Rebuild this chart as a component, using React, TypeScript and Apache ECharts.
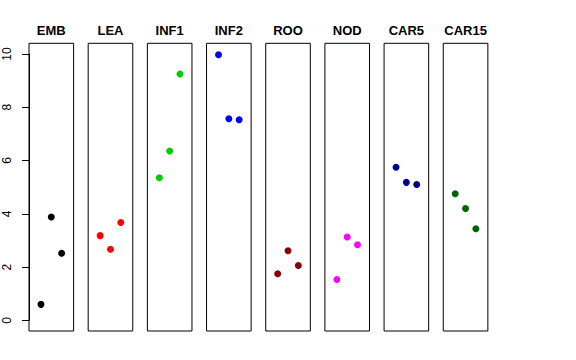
import React, { useEffect, useRef } from "react";
import * as echarts from "echarts";

const panels = ["EMB", "LEA", "INF1", "INF2", "ROO", "NOD", "CAR5", "CAR15"];
const colors = ["#000000", "#FF0000", "#00CD00", "#0000FF", "#8B0000", "#FF00FF", "#00008B", "#006400"];
const values: number[][] = [
  [0.6, 3.88, 2.52],
  [3.18, 2.67, 3.67],
  [5.35, 6.36, 9.25],
  [9.97, 7.57, 7.53],
  [1.75, 2.61, 2.06],
  [1.53, 3.13, 2.84],
  [5.75, 5.18, 5.1],
  [4.75, 4.2, 3.44],
];
const positions = [1, 2, 3];
const yTicks = [0, 2, 4, 6, 8, 10];

export default function App() {
  const ref = useRef<HTMLDivElement>(null);
  useEffect(() => {
    const chart = echarts.init(ref.current!, null, { renderer: "svg" });
    const left0 = 29;
    const step = 59.18;
    const w = 44.6;
    const top = 43.3;
    const h = 287.7;
    const grids: any[] = [];
    const xAxes: any[] = [];
    const yAxes: any[] = [];
    const series: any[] = [];
    const graphics: any[] = [];
    panels.forEach((name, i) => {
      const left = left0 + i * step;
      grids.push({ left, top, width: w, height: h, show: true, borderColor: "#000", borderWidth: 1, backgroundColor: "transparent" });
      xAxes.push({ gridIndex: i, type: "value", min: -0.16, max: 4.16, show: false });
      yAxes.push({ gridIndex: i, type: "value", min: -0.4, max: 10.4, show: false });
      series.push({
        type: "scatter",
        xAxisIndex: i,
        yAxisIndex: i,
        symbolSize: 7,
        itemStyle: { color: colors[i], opacity: 1 },
        data: values[i].map((v, k) => [positions[k], v]),
      });
      graphics.push({
        type: "text",
        x: left + w / 2,
        y: 30,
        style: {
          text: name,
          x: 0,
          y: 0,
          align: "center",
          verticalAlign: "middle",
          font: "bold 13px 'Liberation Sans', Arial, sans-serif",
          fill: "#000",
        },
      });
    });
    // shared y axis (0..10)
    const unit = h / 10.8;
    grids.push({ left: left0, width: w, top: top + 0.4 * unit, height: 10 * unit, show: false });
    xAxes.push({ gridIndex: 8, type: "value", min: 0, max: 1, show: false });
    yAxes.push({
      gridIndex: 8,
      type: "value",
      min: yTicks[0],
      max: yTicks[yTicks.length - 1],
      interval: 2,
      axisLine: { show: true, lineStyle: { color: "#000", width: 1 } },
      axisTick: { show: true, length: 7, lineStyle: { color: "#000" } },
      splitLine: { show: false },
      axisLabel: {
        rotate: 90,
        margin: 16,
        fontFamily: "Liberation Sans, Arial, sans-serif",
        fontSize: 12,
        color: "#000",
      },
    });
    chart.setOption({
      animation: false,
      backgroundColor: "#fff",
      grid: grids,
      xAxis: xAxes,
      yAxis: yAxes,
      series,
      graphic: graphics,
    });
    return () => chart.dispose();
  }, []);
  return <div ref={ref} style={{ width: 576, height: 360, position: "absolute", left: 0, top: 0 }} />;
}
